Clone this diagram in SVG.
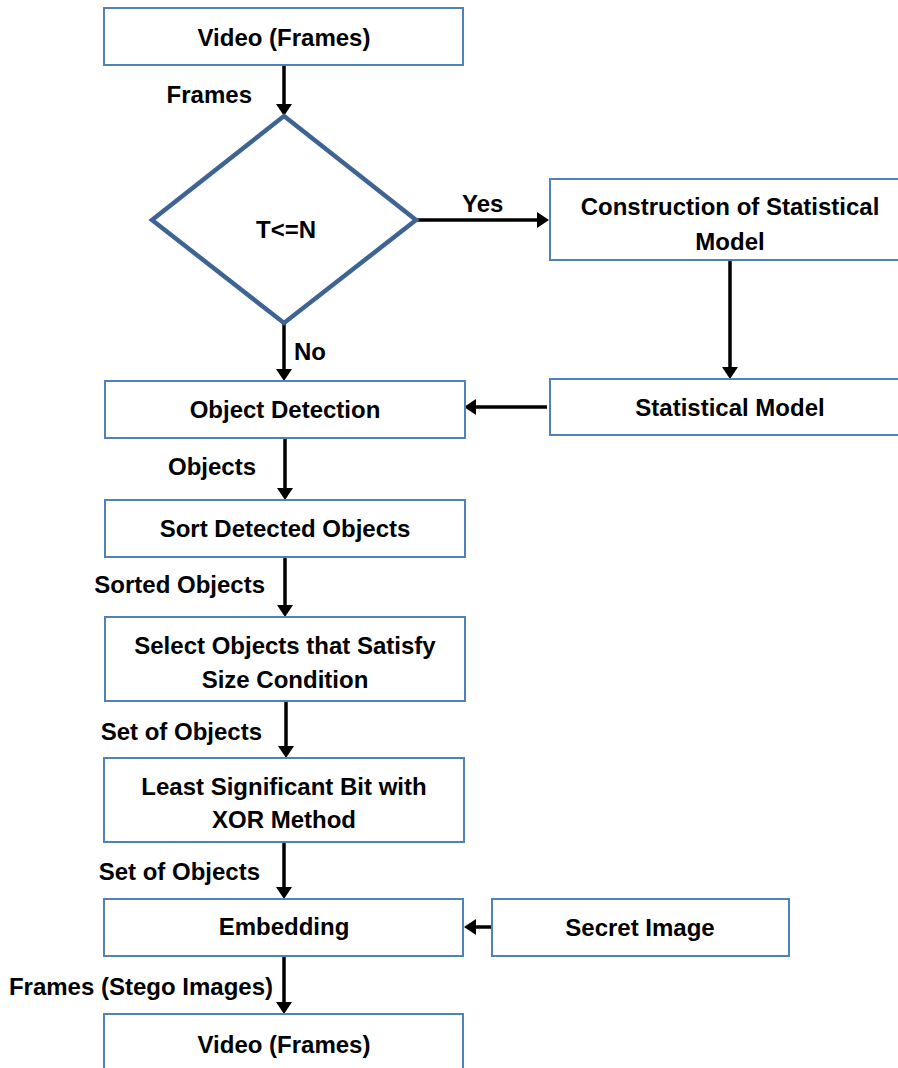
<svg xmlns="http://www.w3.org/2000/svg" width="898" height="1068" viewBox="0 0 898 1068">
<defs>
<marker id="ah" markerUnits="userSpaceOnUse" markerWidth="12" markerHeight="16" refX="6" refY="8" orient="auto">
<path d="M0,0 L12,8 L0,16 z" fill="#000"/>
</marker>
<style>
.box{fill:#fff;stroke:#4f81bd;stroke-width:2}
.dia{fill:#fff;stroke:#3e6494;stroke-width:4.5;stroke-linejoin:miter}
.t{font-family:"Liberation Sans",Arial,sans-serif;font-weight:bold;font-size:24px;fill:#000}
.c{text-anchor:middle}
.e{text-anchor:end}
.ln{stroke:#000;stroke-width:3.5;fill:none;marker-end:url(#ah)}
</style>
</defs>
<rect width="898" height="1068" fill="#fff"/>
<g id="connectors">
<line class="ln" x1="284" y1="65" x2="284" y2="110"/>
<line class="ln" x1="416" y1="220" x2="543" y2="220"/>
<line class="ln" x1="730" y1="260" x2="730" y2="373"/>
<line class="ln" x1="547" y1="407" x2="470" y2="407"/>
<line class="ln" x1="284" y1="323" x2="284" y2="375"/>
<line class="ln" x1="285" y1="438" x2="285" y2="494"/>
<line class="ln" x1="285" y1="557" x2="285" y2="611"/>
<line class="ln" x1="286" y1="701" x2="286" y2="752"/>
<line class="ln" x1="284" y1="842" x2="284" y2="893"/>
<line class="ln" x1="492" y1="927" x2="470" y2="927"/>
<line class="ln" x1="284" y1="956" x2="284" y2="1008"/>
</g>
<g id="labels">
<text class="t e" x="252" y="103">Frames</text>
<text class="t" x="462" y="212">Yes</text>
<text class="t" x="294" y="360">No</text>
<text class="t e" x="256" y="475">Objects</text>
<text class="t e" x="265" y="593">Sorted Objects</text>
<text class="t e" x="262" y="740">Set of Objects</text>
<text class="t e" x="260" y="880">Set of Objects</text>
<text class="t e" x="273" y="995">Frames (Stego Images)</text>
</g>
<g id="video-top">
<rect class="box" x="104" y="8" width="359" height="57"/>
<text class="t c" x="284" y="46">Video (Frames)</text>
</g>
<g id="decision">
<polygon class="dia" points="284,116 416,220 284,323 152,220"/>
<text class="t c" x="286" y="238">T&lt;=N</text>
</g>
<g id="construction">
<rect class="box" x="550" y="179" width="362" height="81"/>
<text class="t c" x="730" y="215">Construction of Statistical</text>
<text class="t c" x="730" y="250">Model</text>
</g>
<g id="statistical-model">
<rect class="box" x="550" y="379" width="362" height="56"/>
<text class="t c" x="730" y="416">Statistical Model</text>
</g>
<g id="object-detection">
<rect class="box" x="105" y="381" width="360" height="57"/>
<text class="t c" x="285" y="418">Object Detection</text>
</g>
<g id="sort">
<rect class="box" x="105" y="500" width="360" height="57"/>
<text class="t c" x="285" y="537">Sort Detected Objects</text>
</g>
<g id="select">
<rect class="box" x="105" y="617" width="360" height="84"/>
<text class="t c" x="285" y="654">Select Objects that Satisfy</text>
<text class="t c" x="285" y="688">Size Condition</text>
</g>
<g id="lsb">
<rect class="box" x="104" y="758" width="360" height="84"/>
<text class="t c" x="284" y="795">Least Significant Bit with</text>
<text class="t c" x="284" y="828">XOR Method</text>
</g>
<g id="embedding">
<rect class="box" x="104" y="899" width="359" height="57"/>
<text class="t c" x="284" y="935">Embedding</text>
</g>
<g id="secret-image">
<rect class="box" x="492" y="899" width="297" height="57"/>
<text class="t c" x="640" y="936">Secret Image</text>
</g>
<g id="video-bottom">
<rect class="box" x="104" y="1014" width="359" height="60"/>
<text class="t c" x="284" y="1053">Video (Frames)</text>
</g>
</svg>
